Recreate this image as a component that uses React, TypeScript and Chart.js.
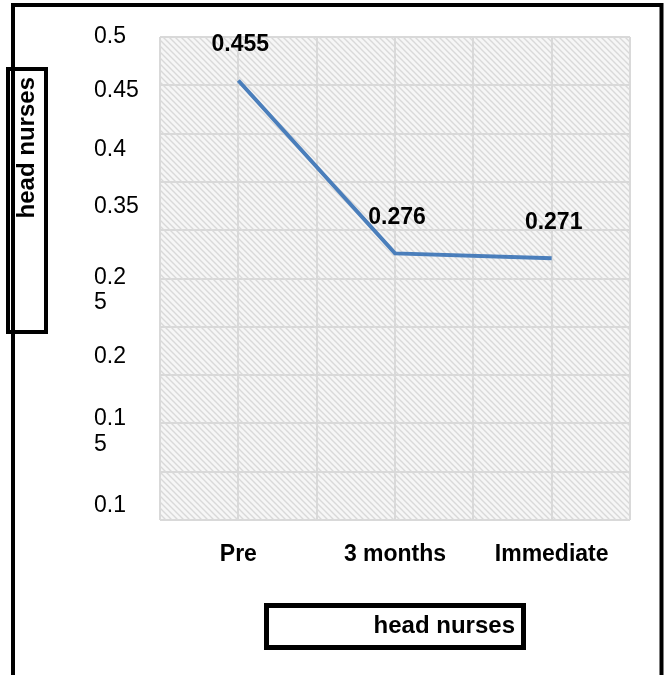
import React, { useEffect, useRef } from 'react';
import { Chart, registerables } from 'chart.js';

Chart.register(...registerables);

// ---- data ----
const categories = ['Pre', '3 months', 'Immediate'];
const values = [0.455, 0.276, 0.271];
const yTickLabels: (string | string[])[] = ['0.5', '0.45', '0.4', '0.35', ['0.2', '5'], '0.2', ['0.1', '5'], '0.1'];
const yAxisTitle = 'head nurses';
const xAxisTitle = 'head nurses';

// layout: where the (misplaced) y tick labels sit, on the 0..0.5 value scale
const yLabelSlots = [0.5, 0.4446, 0.383, 0.324, 0.2376, 0.1693, 0.0916, 0.015];

const FONT = '"Liberation Sans", Arial, Helvetica, sans-serif';

function makeHatch(ctx: CanvasRenderingContext2D) {
  const c = document.createElement('canvas');
  c.width = 6;
  c.height = 6;
  const g = c.getContext('2d')!;
  g.fillStyle = '#f6f6f6';
  g.fillRect(0, 0, 6, 6);
  g.strokeStyle = '#d9d9d9';
  g.lineWidth = 1.4;
  g.beginPath();
  g.moveTo(-1, -1);
  g.lineTo(7, 7);
  g.moveTo(-1, 5);
  g.lineTo(1, 7);
  g.moveTo(5, -1);
  g.lineTo(7, 1);
  g.stroke();
  return ctx.createPattern(c, 'repeat');
}

const hatchPlugin = {
  id: 'hatch',
  beforeDraw(chart: any) {
    const { ctx, chartArea } = chart;
    const p = makeHatch(ctx);
    if (!p) return;
    ctx.save();
    ctx.fillStyle = p;
    ctx.fillRect(chartArea.left, chartArea.top, chartArea.right - chartArea.left, chartArea.bottom - chartArea.top);
    ctx.restore();
  },
};

const dataLabelPlugin = {
  id: 'dataLabels',
  afterDatasetsDraw(chart: any) {
    const { ctx } = chart;
    const meta = chart.getDatasetMeta(0);
    const ds = chart.data.datasets[0];
    ctx.save();
    ctx.font = `bold 23px ${FONT}`;
    ctx.fillStyle = '#000';
    ctx.textAlign = 'center';
    ctx.textBaseline = 'middle';
    meta.data.forEach((pt: any, i: number) => {
      ctx.fillText(String(ds.data[i]), pt.x + 2, pt.y - 36);
    });
    ctx.restore();
  },
};

const framePlugin = {
  id: 'frame',
  afterDraw(chart: any) {
    const { ctx } = chart;
    ctx.save();
    ctx.strokeStyle = '#000';
    // outer frame (open at bottom)
    ctx.lineWidth = 4;
    ctx.beginPath();
    ctx.moveTo(13, 690);
    ctx.lineTo(13, 5);
    ctx.lineTo(661.5, 5);
    ctx.lineTo(661.5, 690);
    ctx.stroke();
    // y title box
    ctx.lineWidth = 4;
    ctx.strokeRect(8, 69, 38, 263);
    // x title box
    ctx.lineWidth = 5;
    ctx.strokeRect(266.5, 605.5, 257, 42);
    // titles
    ctx.fillStyle = '#000';
    ctx.font = `bold 24px ${FONT}`;
    ctx.textAlign = 'right';
    ctx.textBaseline = 'alphabetic';
    ctx.fillText(xAxisTitle, 515, 633);
    ctx.translate(34, 77);
    ctx.rotate(-Math.PI / 2);
    ctx.fillText(yAxisTitle, 0, 0);
    ctx.restore();
  },
};

export default function App() {
  const ref = useRef<HTMLCanvasElement | null>(null);

  useEffect(() => {
    if (!ref.current) return;
    const chart = new Chart(ref.current, {
      type: 'line',
      data: {
        labels: categories,
        datasets: [
          {
            data: values,
            borderColor: '#4a7ebb',
            borderWidth: 4,
            pointRadius: 0,
            tension: 0,
            fill: false,
            xAxisID: 'x',
            yAxisID: 'y',
          },
        ],
      },
      options: {
        animation: false,
        responsive: false,
        layout: { padding: { left: 94, top: 37, right: 40, bottom: 0 } },
        plugins: {
          legend: { display: false },
          tooltip: { enabled: false },
          title: { display: false },
        },
        scales: {
          x: {
            type: 'category',
            position: 'bottom',
            offset: true,
            grid: { display: false, drawTicks: false },
            border: { display: false },
            ticks: {
              color: '#000',
              font: { family: FONT, size: 23, weight: 'bold' },
              padding: 21,
              autoSkip: false,
              maxRotation: 0,
            },
            afterFit: (s: any) => {
              s.height = 155;
            },
          },
          xGrid: {
            type: 'linear',
            position: 'bottom',
            min: 0,
            max: 6,
            grid: { color: '#d9d9d9', lineWidth: 2, drawTicks: false },
            border: { display: false },
            ticks: { display: false, stepSize: 1 },
            afterFit: (s: any) => {
              s.height = 0;
            },
          },
          y: {
            type: 'linear',
            position: 'left',
            min: 0,
            max: 0.5,
            grid: { color: '#d9d9d9', lineWidth: 2, drawTicks: false },
            border: { display: false },
            ticks: { display: false, stepSize: 0.05 },
            afterFit: (s: any) => {
              s.width = 0;
            },
          },
          yLab: {
            type: 'linear',
            position: 'left',
            min: 0,
            max: 0.5,
            grid: { display: false, drawTicks: false },
            border: { display: false },
            afterBuildTicks: (s: any) => {
              s.ticks = yLabelSlots.map((v) => ({ value: v }));
            },
            ticks: {
              autoSkip: false,
              crossAlign: 'far',
              color: '#000',
              font: { family: FONT, size: 23, lineHeight: 1.1 },
              callback: (_v: any, i: number) => yTickLabels[i],
            },
            afterFit: (s: any) => {
              s.width = 66;
            },
          },
        },
      } as any,
      plugins: [hatchPlugin, dataLabelPlugin, framePlugin],
    });
    return () => chart.destroy();
  }, []);

  return (
    <div style={{ position: 'absolute', left: 0, top: 0, width: 670, height: 675, background: '#fff' }}>
      <canvas ref={ref} width={670} height={675} style={{ display: 'block', width: 670, height: 675 }} />
    </div>
  );
}
